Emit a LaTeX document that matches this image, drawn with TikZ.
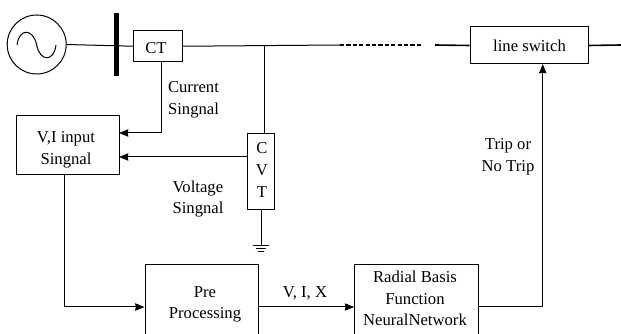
\documentclass[tikz,border=0pt]{standalone}
\usepackage{fontspec}
\setmainfont{Liberation Serif}
\usetikzlibrary{arrows.meta}

\begin{document}
\begin{tikzpicture}[x=0.75pt, y=-0.75pt, >={Stealth[length=7pt,width=5.5pt,inset=0.5pt]}, line width=0.75pt]
\tikzset{box/.style={draw,rectangle,inner sep=0,minimum width=#1}}
\tikzset{txt/.style={align=center,inner sep=0,font=\fontsize{12.5}{16.2}\selectfont}}
\tikzset{feed/.style={->}}
\tikzset{heavy/.style={line width=1.2pt}}
\useasboundingbox (0,0) rectangle (621,334);

% source and bus
\node[draw,circle,inner sep=0,minimum size=44.25pt] (source) at (36.7,44.5) {};
\draw (17,45) .. controls (19,28) and (33,28) .. (36.7,45) .. controls (40,62) and (54,62) .. (56,45);
\coordinate (bustop) at (116,13);
\coordinate (busbot) at (116,76);
\draw[line width=3.75pt] (bustop) -- (busbot);

% blocks
\node[box=36.4pt,minimum height=23.6pt] (ct) at (157.75,46.25) {};
\node[box=88.5pt,minimum height=27.75pt] (switch) at (529,45.5) {};
\node[box=19.9pt,minimum height=57pt] (cvt) at (261.25,171.5) {};
\node[box=77.25pt,minimum height=44.25pt] (input) at (67.5,145) {};

\begin{scope}
\clip (0,0) rectangle (621,334);
\node[box=84.75pt,minimum height=63pt] (pre) at (201.5,307) {};
\node[box=93pt,minimum height=63pt] (rbf) at (416.7,307) {};
\end{scope}

% line
\coordinate (tap) at (264.5,45);
\coordinate (dashstart) at (340,45);
\coordinate (dashend) at (421,45);
\coordinate (linestart) at (435,45);
\coordinate (lineend) at (621,45);
\coordinate (cvttop) at (264.5,133);

\draw (source.east) -- (ct.west);
\draw (ct.east) -- (dashstart);
\draw (tap) -- (cvttop);
\draw[heavy,dash pattern=on 3.2pt off 1.6pt] (dashstart) -- (dashend);
\draw[heavy] (linestart) -- (switch.west);
\draw[heavy] (switch.east) -- (lineend);

% ground
\coordinate (gnd) at (261.25,245.5);
\draw (cvt.south) -- (gnd);
\draw (253,245.5) -- (268.5,245.5);
\draw (255.5,248.5) -- (266,248.5);
\draw (258,251.5) -- (263.5,251.5);

% signals
\coordinate (ctout) at (161,62);
\coordinate (ctcorner) at (161,133);
\coordinate (ctin) at (119,133);
\coordinate (cvtout) at (248,157);
\coordinate (cvtin) at (119,157);
\coordinate (inputout) at (64,174.5);
\coordinate (incorner) at (64,307);
\coordinate (rbfcorner) at (542.7,307);
\coordinate (switchin) at (542.7,64);

\draw[feed] (ctout) -- (ctcorner) -- (ctin);
\draw[feed] (cvtout) -- (cvtin);
\draw[feed] (inputout) -- (incorner) -- (pre.west);
\draw[feed] (pre.east) -- (rbf.west);
\draw[feed] (rbf.east) -- (rbfcorner) -- (switchin);

% text
\node[txt] (cttext) at (156,48) {CT};
\node[txt] (switchtext) at (529.5,46) {line switch};
\node[txt] (cvttext) at (262,170) {C\\V\\T};
\node[txt] (inputtext) at (66,149.5) {V,I input\\Singnal};
\node[txt,align=left] (currenttext) at (193.5,100) {Current\\Singnal};
\node[txt,align=left] (voltagetext) at (198,199) {Voltage\\Singnal};
\node[txt] (pretext) at (205,304.5) {Pre\\Processing};
\node[txt] (vixtext) at (305,293) {V, I, X};
\node[txt] (rbftext) at (415,298.5) {Radial Basis\\Function\\NeuralNetwork};
\node[txt] (triptext) at (508,157) {Trip or\\No Trip};
\end{tikzpicture}
\end{document}
